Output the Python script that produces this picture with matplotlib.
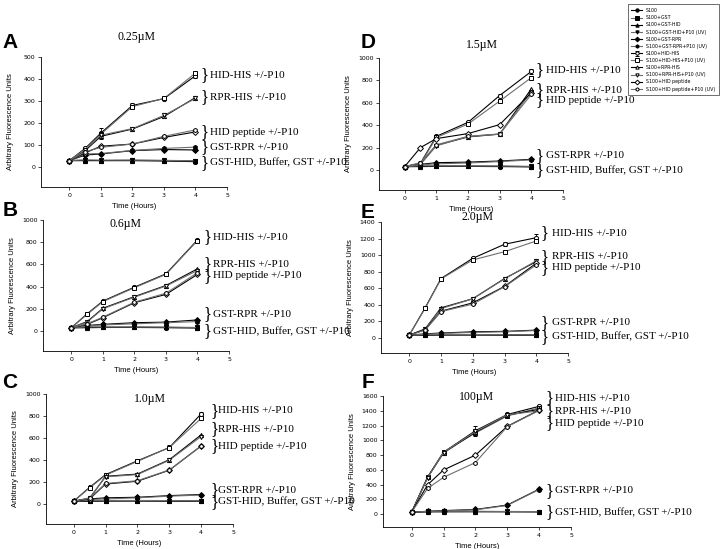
import matplotlib
matplotlib.use("Agg")
import matplotlib.pyplot as plt

hours = [0, 0.5, 1, 2, 3, 4]

names = ["S100", "S100+GST", "S100+GST-HID", "S100+GST-HID+P10 (UV)",
         "S100+GST-RPR", "S100+GST-RPR+P10 (UV)", "S100+HID-HIS",
         "S100+HID-HIS+P10 (UV)", "S100+RPR-HIS", "S100+RPR-HIS+P10 (UV)",
         "S100+HID peptide", "S100+HID peptide+P10 (UV)"]

group_labels = ["HID-HIS +/-P10", "RPR-HIS +/-P10", "HID peptide +/-P10",
                "GST-RPR +/-P10", "GST-HID, Buffer, GST +/-P10"]

# one row per series, same order as names
panel_a = [[30, 30, 30, 30, 28, 25], [30, 32, 30, 32, 30, 28],
           [30, 30, 30, 30, 30, 27], [30, 33, 32, 32, 31, 29],
           [30, 55, 60, 75, 80, 78], [30, 60, 62, 76, 85, 91],
           [30, 85, 155, 280, 311, 415], [30, 80, 150, 275, 312, 427],
           [30, 75, 140, 173, 230, 316], [30, 80, 145, 175, 235, 312],
           [30, 65, 95, 105, 135, 160], [30, 70, 90, 105, 140, 169]]
panel_b = [[30, 32, 32, 32, 30, 28], [30, 35, 35, 35, 33, 30],
           [30, 30, 32, 33, 32, 30], [30, 38, 36, 36, 35, 32],
           [30, 50, 60, 75, 80, 100], [30, 45, 55, 65, 75, 85],
           [30, 155, 270, 395, 515, 820], [30, 150, 265, 390, 510, 815],
           [30, 85, 205, 310, 410, 560], [30, 80, 200, 305, 405, 545],
           [30, 60, 120, 255, 330, 510], [30, 65, 125, 260, 340, 525]]
panel_c = [[30, 32, 32, 32, 30, 28], [30, 35, 35, 35, 33, 30],
           [30, 30, 32, 33, 32, 30], [30, 38, 36, 36, 35, 32],
           [30, 50, 60, 65, 80, 90], [30, 45, 50, 60, 75, 85],
           [30, 155, 270, 395, 515, 820], [30, 150, 265, 390, 515, 780],
           [30, 55, 255, 275, 405, 630], [30, 60, 250, 270, 400, 615],
           [30, 50, 185, 210, 310, 530], [30, 55, 190, 215, 312, 528]]
panel_d = [[30, 32, 32, 32, 30, 28], [30, 35, 35, 35, 33, 30],
           [30, 30, 32, 33, 32, 30], [30, 38, 36, 36, 35, 32],
           [30, 50, 65, 70, 80, 95], [30, 45, 55, 62, 75, 90],
           [30, 60, 300, 425, 665, 880], [30, 55, 290, 410, 615, 825],
           [30, 55, 220, 295, 320, 725], [30, 50, 215, 300, 320, 700],
           [30, 200, 280, 325, 405, 690], [30, 65, 225, 300, 322, 675]]
panel_e = [[30, 32, 32, 32, 30, 28], [30, 35, 35, 35, 33, 30],
           [30, 30, 32, 33, 32, 30], [30, 38, 36, 36, 35, 32],
           [30, 45, 55, 70, 75, 90], [30, 40, 50, 62, 70, 85],
           [30, 360, 715, 960, 1130, 1210], [30, 355, 710, 940, 1040, 1170],
           [30, 105, 360, 470, 715, 920], [30, 100, 350, 470, 710, 930],
           [30, 95, 320, 420, 620, 900], [30, 90, 315, 405, 615, 880]]
panel_f = [[30, 35, 35, 35, 35, 35], [30, 38, 38, 38, 36, 35],
           [30, 35, 36, 37, 36, 34], [30, 40, 40, 40, 38, 36],
           [30, 40, 50, 65, 125, 340], [30, 38, 45, 60, 120, 335],
           [30, 500, 840, 1130, 1350, 1460], [30, 505, 845, 1100, 1330, 1440],
           [30, 500, 830, 1110, 1340, 1420], [30, 495, 835, 1120, 1345, 1400],
           [30, 400, 600, 800, 1190, 1410], [30, 350, 500, 700, 1185, 1405]]

# error bars on the HID-HIS series
err_a = [0, 5, 25, 10, 5, 10]
err_b = [0, 5, 8, 8, 8, 10]
err_c = [0, 5, 10, 10, 20, 15]
err_d = [0, 5, 10, 10, 15, 20]
err_e = [0, 10, 15, 20, 25, 40]
err_f = [0, 10, 15, 70, 20, 25]

concs = ["0.25\u00b5M", "0.6\u00b5M", "1.0\u00b5M", "1.5\u00b5M", "2.0\u00b5M", "100\u00b5M"]
letters = ["A", "B", "C", "D", "E", "F"]
ymaxes = [500, 1000, 1000, 1000, 1400, 1600]
ystep = [100, 200, 200, 200, 200, 200]

# y values of the five group labels per panel
label_y_a = [417, 318, 158, 91, 20]
label_y_b = [844, 600, 497, 148, -3]
label_y_c = [849, 681, 524, 126, 22]
label_y_d = [890, 712, 622, 125, -3]
label_y_e = [1262, 978, 845, 177, 7]
label_y_f = [1569, 1397, 1230, 316, 23]

markers = ["o", "s", "^", "v", "D", "h", "o", "s", "^", "v", "D", "h"]
W, H = 723, 549

# axes boxes in pixels: left, right(x=5), top(ymax), bottom
boxes = [(41, 227, 57, 187), (43, 229, 220, 351), (46, 233, 394, 524),
         (379, 563, 58, 190), (381, 568, 222, 353), (383, 571, 396, 527)]
ymins = [-90, -180, -177, -179, -187, -172]
xmins = [-0.9, -0.9, -0.87, -0.81, -0.89, -0.9]
title_px = [(137, 37), (125, 224), (150, 399), (482, 45), (477, 217), (477, 397)]
letter_px = [(10, 42), (10, 210), (10, 383), (368, 42), (368, 212), (368, 383)]
brace_x = [4.15, 4.2, 4.29, 4.13, 4.14, 4.19]
text_x = [4.45, 4.5, 4.52, 4.45, 4.5, 4.5]

panels = [panel_a, panel_b, panel_c, panel_d, panel_e, panel_f]
errs = [err_a, err_b, err_c, err_d, err_e, err_f]
label_ys = [label_y_a, label_y_b, label_y_c, label_y_d, label_y_e, label_y_f]

serif = "Liberation Serif"
sans = "Liberation Sans"

fig = plt.figure(figsize=(W / 100, H / 100), dpi=100)

handles = []
for p in range(6):
    l, r, t, b = boxes[p]
    ax = fig.add_axes([l / W, 1 - b / H, (r - l) / W, (b - t) / H])
    for i, vals in enumerate(panels[p]):
        uv = i % 2 == 1
        col = "#6e6e6e" if uv else "black"
        face = "black" if i < 6 else "white"
        yerr = errs[p] if i == 6 else None
        h = ax.errorbar(hours, vals, yerr=yerr, color=col, lw=0.8,
                        marker=markers[i], ms=3, mfc=face, mec="black",
                        mew=0.7, elinewidth=0.6, capsize=1.5, label=names[i])
        if p == 0:
            handles.append(h)
    ax.set_xlim(xmins[p], 5)
    ax.set_ylim(ymins[p], ymaxes[p])
    ax.set_xticks(range(6))
    ax.set_yticks(range(0, ymaxes[p] + 1, ystep[p]))
    ax.tick_params(labelsize=4.5, length=2, width=0.5, pad=2)
    for s in ["top", "right"]:
        ax.spines[s].set_visible(False)
    for s in ["left", "bottom"]:
        ax.spines[s].set_linewidth(0.6)
    ax.set_xlabel("Time (Hours)", fontsize=5.5, family=sans, labelpad=4)
    ax.set_ylabel("Arbitrary Fluorescence Units", fontsize=5.5, family=sans)
    ax.yaxis.set_label_coords(-27 / (r - l), 0.5)

    for k, lab in enumerate(group_labels):
        yv = label_ys[p][k]
        ax.text(brace_x[p], yv, "}", fontsize=12, family=serif,
                va="center", ha="left", clip_on=False)
        ax.text(text_x[p], yv, lab, fontsize=8, family=serif,
                va="center", ha="left", clip_on=False)

    tx, ty = title_px[p]
    fig.text(tx / W, 1 - ty / H, concs[p], fontsize=8.5, family=serif,
             ha="center", va="center")
    lx, ly = letter_px[p]
    fig.text(lx / W, 1 - ly / H, letters[p], fontsize=15, family=sans,
             weight="bold", ha="center", va="center")

leg = fig.legend(handles=handles, loc="upper right",
                 bbox_to_anchor=(721 / W, 1 - 2 / H), fontsize=3.4,
                 frameon=True, fancybox=False, edgecolor="black",
                 handlelength=2.2, labelspacing=0.45, borderpad=0.8,
                 markerscale=0.8)
leg.get_frame().set_linewidth(0.5)

fig.savefig("out.png", dpi=100)
